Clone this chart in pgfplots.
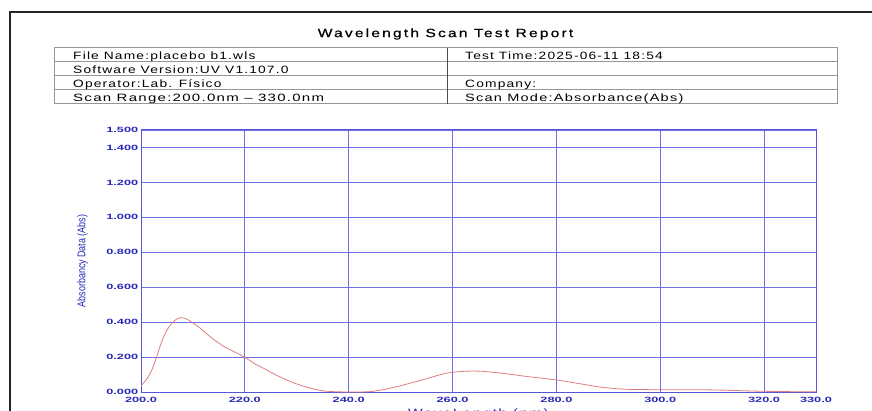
\documentclass[border=0pt]{standalone}
\usepackage{fontspec}
\usepackage{graphicx}
\setmainfont{Liberation Sans}
\newfontfamily\tickfont[FakeStretch=1.68]{Liberation Sans Bold}
\newfontfamily\narrowfont[FakeStretch=0.8]{Liberation Sans}
\newfontfamily\tblfont[FakeStretch=1.3,LetterSpace=11]{Liberation Sans}
\newfontfamily\titlefont[FakeStretch=1.3,LetterSpace=18,FakeBold=0.6]{Liberation Sans}
\usepackage{pgfplots}
\pgfplotsset{compat=1.18}
\definecolor{gridblue}{RGB}{110,110,225}
\definecolor{axblue}{RGB}{85,85,215}
\definecolor{lblblue}{RGB}{40,40,185}
\definecolor{curvered}{RGB}{225,125,125}
\definecolor{tblgray}{RGB}{150,150,150}
\begin{document}
\begin{tikzpicture}[x=1pt,y=1pt]
\useasboundingbox (0,0) rectangle (872,-411);
\clip (0,0) rectangle (872,-411);
% page frame
\draw[line width=2pt,black!85] (10,-420) -- (10,-12) -- (880,-12);
% title
\node[font=\titlefont\fontsize{12}{14}\selectfont] at (445.5,-34) {Wavelength Scan Test Report};
% table
\begin{scope}[tblgray,line width=1pt]
\draw (54,-48) rectangle (837,-104);
\draw (54,-62) -- (837,-62);
\draw (54,-76) -- (837,-76);
\draw (54,-90) -- (837,-90);
\draw[black!70] (447,-48) -- (447,-104);
\end{scope}
\begin{scope}[every node/.style={anchor=base west,inner sep=0pt,font=\tblfont\fontsize{10.6}{12}\selectfont}]
\node at (73,-59.5) {File Name:placebo b1.wls};
\node at (73,-73.5) {Software Version:UV V1.107.0};
\node at (73,-87.5) {Operator:Lab. Físico};
\node at (73,-101.5) {\scalebox{1.09}[1]{Scan Range:200.0nm \textendash\ 330.0nm}};
\node at (465,-59.5) {Test Time:2025-06-11 18:54};
\node at (465,-87.5) {Company:};
\node at (465,-101.5) {\scalebox{1.055}[1]{Scan Mode:Absorbance(Abs)}};
\end{scope}
\begin{axis}[
  scale only axis,
  width=675pt, height=262pt,
  at={(141pt,-392pt)}, anchor=south west,
  xmin=200, xmax=330, ymin=0, ymax=1.5,
  xtick={200,220,240,260,280,300,320,330},
  ytick={0,0.2,0.4,0.6,0.8,1.0,1.2,1.4,1.5},
  grid=major,
  major grid style={gridblue,line width=0.9pt},
  axis line style={axblue,line width=1pt},
  major tick length=0pt,
  tick style={draw=none},
  /pgf/number format/assume math mode=true,
  xticklabel style={/pgf/number format/.cd,fixed,fixed zerofill,precision=1,/tikz/.cd,
     font=\tickfont\fontsize{7.6}{8}\selectfont, text=lblblue, inner sep=1pt, yshift=-4pt},
  yticklabel style={/pgf/number format/.cd,fixed,fixed zerofill,precision=3,/tikz/.cd,
     font=\tickfont\fontsize{7.6}{8}\selectfont, text=lblblue, inner sep=1pt, xshift=-1.5pt},
  ylabel={Absorbancy Data (Abs)},
  ylabel style={font=\narrowfont\fontsize{11.2}{12}\selectfont, text=lblblue, at={(axis description cs:-0.0737,0.5)}, anchor=south},
  xlabel={WaveLength (nm)},
  xlabel style={font=\tblfont\fontsize{12}{13}\selectfont, text=lblblue, at={(axis description cs:0.5,0)}, anchor=north, yshift=-13pt},
]
\addplot[curvered, line width=0.8pt, smooth, no marks] coordinates {
(200,0.035) (201,0.07) (202,0.12) (203,0.20) (204,0.29) (205,0.355) (206,0.395)
(207,0.42) (208,0.425) (209,0.415) (210,0.395) (211,0.375) (212,0.35) (213,0.325)
(214,0.30) (215,0.28) (216,0.26) (217,0.245) (218,0.23) (219,0.215) (220,0.198)
(221,0.18) (222,0.16) (223,0.145) (224,0.13) (225,0.113) (226,0.097) (227,0.083)
(228,0.07) (229,0.057) (230,0.046) (231,0.036) (232,0.027) (233,0.019) (234,0.012)
(235,0.007) (236,0.004) (237,0.002) (238,0.001) (240,0.000) (242,0.000) (244,0.002)
(246,0.010) (248,0.022) (250,0.036) (252,0.052) (254,0.068) (256,0.085) (258,0.102)
(260,0.113) (262,0.118) (264,0.120) (266,0.118) (268,0.112) (270,0.106) (272,0.098)
(274,0.090) (276,0.083) (278,0.076) (280,0.069) (282,0.060) (284,0.050) (286,0.040)
(288,0.030) (290,0.023) (292,0.018) (294,0.015) (296,0.014) (300,0.013) (305,0.013)
(310,0.012) (315,0.008) (320,0.004) (325,0.002) (330,0.001)
};
\end{axis}
\end{tikzpicture}
\end{document}
